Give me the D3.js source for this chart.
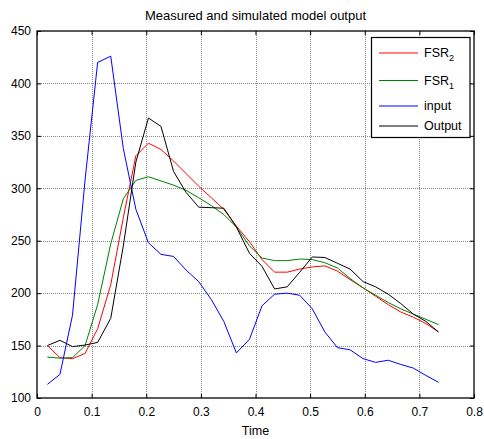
<!DOCTYPE html>
<html>
<head>
<meta charset="utf-8">
<script src="https://cdn.jsdelivr.net/npm/d3@7"></script>
<style>
html,body{margin:0;padding:0;background:#fff;}
svg{display:block;font-family:"Liberation Sans",Arial,sans-serif;}
</style>
</head>
<body>
<svg id="chart" width="484" height="439"></svg>
<script>
const time = [0.019,0.042,0.065,0.088,0.111,0.135,0.158,0.181,0.204,0.227,0.250,0.273,0.296,0.319,0.342,0.365,0.389,0.412,0.435,0.458,0.481,0.504,0.527,0.550,0.573,0.597,0.620,0.643,0.666,0.689,0.712,0.735];
const fsr2 = [150,138.5,137.5,142.5,166,208,272,331,343,337,326,314,302,291,280,264,249,232,220,220,223,225,226,221,213,205,197,189,182,177,171,163];
const fsr1 = [139,138,138.5,150,189,247,290,307.5,311,307,303,298,291,283.5,275,263,245,233.5,231,231,232.5,232,229,224,214,205,198,191,185,180,175,170];
const input = [113,122.5,179,308,420,426,338,280,248,237,235,222,211,194,173,143,156,188,199,200,198,185,163,148,146,137.5,134,136,132,128.5,121.5,115];
const output = [150,155,149,150.5,153,176,245,325,367,359,316,296,282,281.5,281,263,238,225.5,204,206,220,234.5,234,228.5,223,211,206,199,190,180,173,163];
const xTicks = [0,0.1,0.2,0.3,0.4,0.5,0.6,0.7,0.8];
const yTicks = [100,150,200,250,300,350,400,450];
const seriesNames = ["FSR","FSR","input","Output"];
const seriesSubs = ["2","1","",""];
const seriesColors = ["#ff0000","#008000","#0000ff","#000000"];
const titleText = "Measured and simulated model output";
const xLabel = "Time";

const svg = d3.select("#chart");
const L = 37, R = 474, T = 31, B = 398;
const x = d3.scaleLinear().domain([0,0.8]).range([L,R]);
const y = d3.scaleLinear().domain([100,450]).range([B,T]);

// grid
const grid = svg.append("g");
grid.selectAll("line.gx").data(xTicks.slice(1,-1)).enter().append("line")
  .attr("x1",d=>Math.round(x(d))+0.5).attr("x2",d=>Math.round(x(d))+0.5)
  .attr("y1",T).attr("y2",B)
  .attr("stroke","#8a8a8a").attr("stroke-dasharray","1,1").attr("stroke-width",1);
grid.selectAll("line.gy").data(yTicks.slice(1,-1)).enter().append("line")
  .attr("y1",d=>Math.round(y(d))+0.5).attr("y2",d=>Math.round(y(d))+0.5)
  .attr("x1",L).attr("x2",R)
  .attr("stroke","#8a8a8a").attr("stroke-dasharray","1,1").attr("stroke-width",1);

// axes
const fmtX = d => d===0 ? "0" : d3.format(".1f")(d);
const gx = svg.append("g").attr("transform",`translate(0,${B})`)
  .call(d3.axisBottom(x).tickValues(xTicks).tickFormat(fmtX).tickSizeInner(-4).tickSizeOuter(0).tickPadding(9));
const gxt = svg.append("g").attr("transform",`translate(0,${T})`)
  .call(d3.axisTop(x).tickValues(xTicks).tickFormat("").tickSizeInner(-4).tickSizeOuter(0));
const gy = svg.append("g").attr("transform",`translate(${L},0)`)
  .call(d3.axisLeft(y).tickValues(yTicks).tickSizeInner(-4).tickSizeOuter(0).tickPadding(6));
const gyr = svg.append("g").attr("transform",`translate(${R},0)`)
  .call(d3.axisRight(y).tickValues(yTicks).tickFormat("").tickSizeInner(-4).tickSizeOuter(0));
[gx,gxt,gy,gyr].forEach(g=>{
  g.select(".domain").remove();
  g.selectAll("line").attr("stroke","#000");
  g.selectAll("text").attr("font-size",12).attr("fill","#000").attr("font-family","Liberation Sans, Arial, sans-serif");
});

// box
svg.append("rect").attr("x",L).attr("y",T).attr("width",R-L).attr("height",B-T)
  .attr("fill","none").attr("stroke","#000").attr("stroke-width",1.3);

// lines
const allSeries = [fsr2,fsr1,input,output];
const line = d3.line().x((d,i)=>x(time[i])).y(d=>y(d));
[0,1,2,3].forEach(k=>{
  svg.append("path").datum(allSeries[k]).attr("d",line)
    .attr("fill","none").attr("stroke",seriesColors[k]).attr("stroke-width",1);
});

// title and label
svg.append("text").attr("x",(L+R)/2).attr("y",20).attr("text-anchor","middle")
  .attr("font-size",13).text(titleText);
svg.append("text").attr("x",(L+R)/2).attr("y",435).attr("text-anchor","middle")
  .attr("font-size",12.5).text(xLabel);

// legend
const lg = svg.append("g");
lg.append("rect").attr("x",371.5).attr("y",37.5).attr("width",98.5).attr("height",100)
  .attr("fill","#fff").attr("stroke","#000").attr("stroke-width",1.2);
const legY = [53,80.5,106,126];
seriesNames.forEach((n,i)=>{
  lg.append("line").attr("x1",379).attr("x2",418).attr("y1",legY[i]).attr("y2",legY[i])
    .attr("stroke",seriesColors[i]).attr("stroke-width",1);
  const t = lg.append("text").attr("x",424).attr("y",legY[i]+4).attr("font-size",12.5);
  t.append("tspan").text(n);
  if (seriesSubs[i]) t.append("tspan").attr("dy",4).attr("font-size",9).text(seriesSubs[i]);
});
</script>
</body>
</html>
